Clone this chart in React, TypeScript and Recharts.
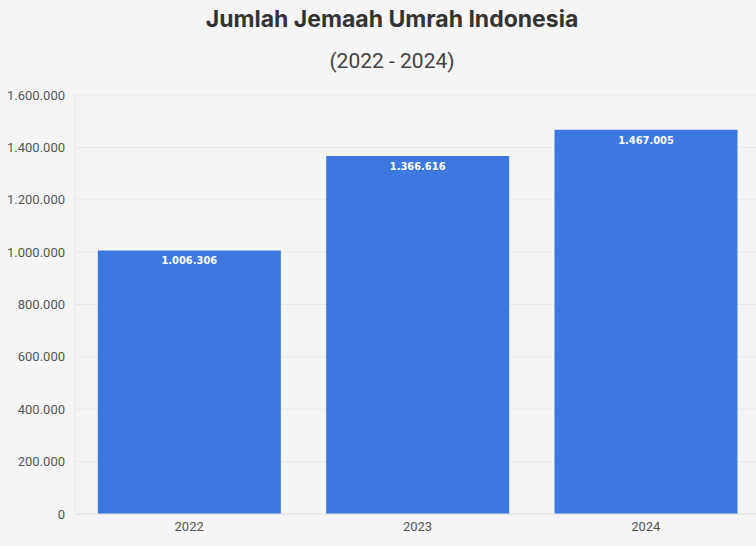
import { BarChart, Bar, XAxis, YAxis, CartesianGrid, LabelList } from "recharts"

const years = ["2022", "2023", "2024"]
const jemaah = [1006306, 1366616, 1467005]
const yTicks = [0, 200000, 400000, 600000, 800000, 1000000, 1200000, 1400000, 1600000]

const data = years.map((year, i) => ({ year, jemaah: jemaah[i] }))

const fmt = (v: number) => String(v).replace(/\B(?=(\d{3})+(?!\d))/g, ".")

export default function App() {
  return (
    <div style={{ position: "relative", width: 756, height: 546, overflow: "hidden", background: "#f5f5f5", fontFamily: "Roboto" }}>
      <style>{"body{margin:0}"}</style>
      <div style={{ position: "absolute", top: 5, left: 0, width: 784, textAlign: "center", fontSize: 23, fontWeight: 700, color: "#333", fontFamily: "Inter" }}>
        Jumlah Jemaah Umrah Indonesia
      </div>
      <div style={{ position: "absolute", top: 49, left: 0, width: 784, textAlign: "center", fontSize: 21, color: "#444" }}>
        (2022 - 2024)
      </div>
      <BarChart width={760} height={546} data={data} margin={{ top: 95, right: 0, bottom: 0, left: 0 }} barCategoryGap="10%">
        <CartesianGrid vertical={false} stroke="#e8e8e8" />
        <XAxis
          dataKey="year"
          height={32}
          tickLine={false}
          axisLine={{ stroke: "#e2e2e2" }}
          tick={{ fill: "#555", fontSize: 13 }}
        />
        <YAxis
          width={75}
          domain={[0, 1600000]}
          ticks={yTicks}
          tickFormatter={fmt}
          tickLine={false}
          tickMargin={4}
          axisLine={{ stroke: "#ebebeb" }}
          tick={{ fill: "#555", fontSize: 13 }}
        />
        <Bar dataKey="jemaah" fill="#3d78e0" isAnimationActive={false}>
          <LabelList
            dataKey="jemaah"
            position="insideTop"
            offset={6}
            formatter={(v: number) => fmt(v)}
            fill="#fff"
            fontSize={11}
            fontWeight={700}
            fontFamily="DejaVu Sans Condensed"
          />
        </Bar>
      </BarChart>
    </div>
  )
}
